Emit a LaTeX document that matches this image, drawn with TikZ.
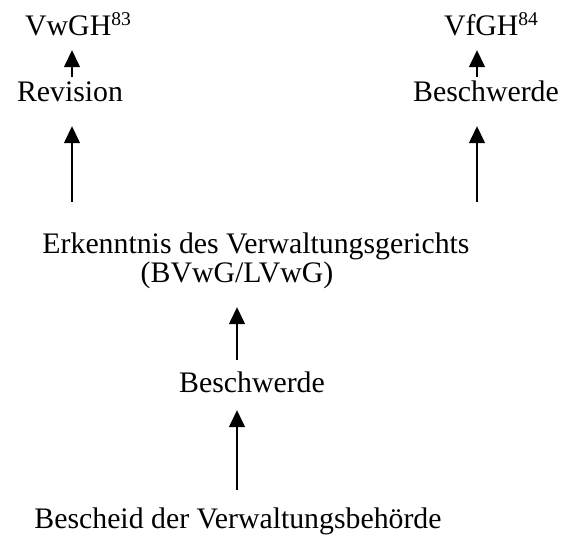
\documentclass[tikz,border=0pt]{standalone}
\usepackage{fontspec}
\setmainfont{Liberation Serif}
\usetikzlibrary{arrows.meta,positioning}
\newcommand{\hochzahl}[1]{\raisebox{10.5pt}{\fontsize{19.5}{20}\selectfont #1}}
\tikzset{
    txt/.style={anchor=base, inner sep=0pt, text height=25pt, text depth=14pt, font=\fontsize{29.8}{34}\selectfont},
    pfeil/.style={-{Triangle[width=16pt,length=17pt]}, line width=1.4pt}
}
\begin{document}
\begin{tikzpicture}[x=1pt, y=-1pt]
    \useasboundingbox (0, 0) rectangle (565, 535);
    \coordinate (links) at (72, 0);
    \coordinate (rechts) at (477, 0);
    \coordinate (mitte) at (237, 0);
    \node[txt] (vwgh) at (78, 36) {VwGH\hochzahl{83}};
    \node[txt] (vfgh) at (491, 36) {VfGH\hochzahl{84}};
    \node[txt] (revision) at (70, 102) {Revision};
    \node[txt] (beschwerdeR) at (486, 102) {Beschwerde};
    \node[txt] (erkenntnis) at (256, 253) {Erkenntnis des Verwaltungsgerichts};
    \node[txt] (bvwg) at (237, 282) {(BVwG/LVwG)};
    \node[txt] (beschwerdeM) at (252, 392) {Beschwerde};
    \node[txt] (bescheid) at (238, 528) {Bescheid der Verwaltungsbehörde};
    % Rechtszug
    \draw[pfeil] (revision.north -| links) -- (vwgh.south -| links);
    \draw[pfeil] (beschwerdeR.north -| rechts) -- (vfgh.south -| rechts);
    \draw[pfeil, shorten <=26pt, shorten >=10pt] (erkenntnis.north -| links) -- (revision.south -| links);
    \draw[pfeil, shorten <=26pt, shorten >=10pt] (erkenntnis.north -| rechts) -- (beschwerdeR.south -| rechts);
    \draw[pfeil, shorten <=7pt, shorten >=11pt] (beschwerdeM.north -| mitte) -- (bvwg.south -| mitte);
    \draw[pfeil, shorten <=13pt, shorten >=4pt] (bescheid.north -| mitte) -- (beschwerdeM.south -| mitte);
\end{tikzpicture}
\end{document}
